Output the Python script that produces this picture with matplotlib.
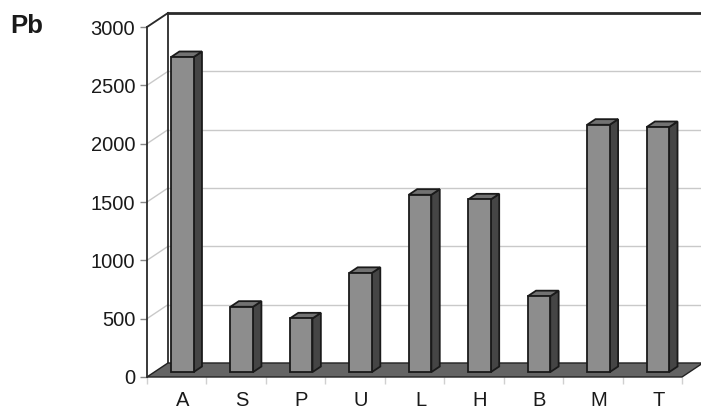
import matplotlib.pyplot as plt
from matplotlib.patches import Polygon

plt.rcParams['font.family'] = ['Liberation Sans', 'DejaVu Sans']

# Pb concentrations per site
categories = ['A', 'S', 'P', 'U', 'L', 'H', 'B', 'M', 'T']
values = [2700, 560, 460, 850, 1520, 1480, 650, 2120, 2100]
yticks = [0, 500, 1000, 1500, 2000, 2500, 3000]

# oblique depth: full depth shifts x by DX categories and y by DV value units
DX = 0.353
DV = 120
YMAX = 3000


def proj(x, v, d):
    return (x + d * DX, v + d * DV)


fig = plt.figure(figsize=(7.01, 4.12), dpi=100)
ax = fig.add_axes([147 / 701, 35 / 412, 535 / 701, 350 / 412])
ax.set_xlim(0, len(categories))
ax.set_ylim(0, YMAX)
ax.set_facecolor('none')

n = len(categories)
grid_c = '#c9c9c9'
edge_c = '#2a2a2a'

# back wall gridlines and left wall diagonals
for v in yticks:
    x0, y0 = proj(0, v, 1)
    x1, y1 = proj(n + 0.2, v, 1)
    ax.plot([x0, x1], [y0, y1], color=grid_c, lw=1, clip_on=False, zorder=1)
    xa, ya = proj(0, v, 0)
    ax.plot([xa, x0], [ya, y0], color=grid_c, lw=1, clip_on=False, zorder=1)

# wall frame
bx, by = proj(0, 0, 1)
tx, ty = proj(0, YMAX, 1)
ax.plot([bx, tx], [by, ty], color=edge_c, lw=1.3, clip_on=False, zorder=2)
fx, fy = proj(0, YMAX, 0)
ax.plot([fx, tx], [fy, ty], color=edge_c, lw=1.3, clip_on=False, zorder=2)
ex, ey = proj(n + 0.2, YMAX, 1)
ax.plot([tx, ex], [ty, ey], color=edge_c, lw=2, clip_on=False, zorder=2)

# floor
floor = [proj(0, 0, 0), proj(n, 0, 0), proj(n, 0, 1), proj(0, 0, 1)]
ax.add_patch(Polygon(floor, closed=True, facecolor='#646464', edgecolor='#222222',
                     lw=1, clip_on=False, zorder=3))

# 3d columns
x_lo, x_hi = 0.28, 0.66
d0, d1 = 0.35, 0.75
for i, v in enumerate(values):
    xl, xr = i + x_lo, i + x_hi
    front = [proj(xl, 0, d0), proj(xr, 0, d0), proj(xr, v, d0), proj(xl, v, d0)]
    side = [proj(xr, 0, d0), proj(xr, 0, d1), proj(xr, v, d1), proj(xr, v, d0)]
    top = [proj(xl, v, d0), proj(xr, v, d0), proj(xr, v, d1), proj(xl, v, d1)]
    ax.add_patch(Polygon(side, closed=True, facecolor='#454545', edgecolor='#1a1a1a',
                         lw=1.3, clip_on=False, zorder=4))
    ax.add_patch(Polygon(top, closed=True, facecolor='#727272', edgecolor='#1a1a1a',
                         lw=1.3, clip_on=False, zorder=4))
    ax.add_patch(Polygon(front, closed=True, facecolor='#8d8d8d', edgecolor='#1a1a1a',
                         lw=1.3, clip_on=False, zorder=5))

# axes
for s in ['top', 'right', 'bottom']:
    ax.spines[s].set_visible(False)
ax.spines['left'].set_color(edge_c)
ax.spines['left'].set_linewidth(1.3)
ax.spines['left'].set_zorder(6)

ax.set_yticks(yticks)
ax.set_yticklabels([str(t) for t in yticks])
ax.tick_params(axis='y', length=5, width=1, color='#888888', pad=3.5,
               labelsize=14.5, labelcolor='#1a1a1a')

ax.set_xticks([i + 0.6 for i in range(n)])
ax.set_xticklabels(categories)
ax.set_xticks(range(n + 1), minor=True)
ax.tick_params(axis='x', which='major', length=0, pad=10,
               labelsize=14.5, labelcolor='#1a1a1a')
ax.tick_params(axis='x', which='minor', length=5, width=1, color='#d0d0d0')

fig.text(10 / 701, 1 - 26 / 412, 'Pb', fontsize=18.5, fontweight='bold',
         color='#1a1a1a', va='center', ha='left')

fig.savefig('out.png', dpi=100)
